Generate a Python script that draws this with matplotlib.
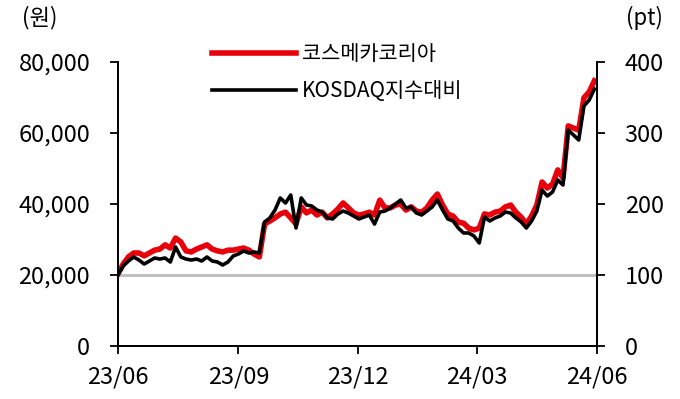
import pandas as pd
import matplotlib
matplotlib.use("Agg")
import matplotlib.pyplot as plt

plt.rcParams['font.family'] = ['Noto Sans CJK KR', 'DejaVu Sans']
plt.rcParams['font.weight'] = 'light'

# 4일 간격 관측값 (2023-06-01 ~ 2024-05-30)
dates = pd.date_range("2023-06-01", "2024-05-30", freq="4D")

# 코스메카코리아 주가 (원)
price = [20400, 23100, 25100, 26200, 26200, 25400, 26200, 27000, 27300, 28500,
         27600, 30400, 29300, 26800, 26500, 27300, 27900, 28500, 27300, 26800,
         26500, 27000, 27000, 27300, 27600, 27000, 25900, 25100, 34400, 35200,
         36100, 37200, 37700, 36100, 34400, 39200, 37500, 38300, 36900, 37700,
         36100, 37200, 38600, 40300, 38900, 37500, 36900, 37200, 37700, 36900,
         41100, 38900, 38900, 39700, 40000, 38300, 39200, 38000, 37700, 38900,
         41100, 42800, 39700, 37200, 36600, 34900, 34600, 33200, 32700, 33200,
         37200, 36900, 37700, 38000, 39200, 39700, 37700, 36300, 34400, 36600,
         39700, 46200, 44500, 45600, 49600, 47300, 62000, 61400, 60800, 69900,
         71600, 74700]

# KOSDAQ 지수 대비 상대지수 (pt)
rel = [100.0, 112.7, 119.7, 125.4, 121.1, 115.5, 119.7, 124.0, 122.5, 124.0,
       118.3, 139.4, 125.4, 122.5, 121.1, 122.5, 119.7, 125.4, 119.7, 118.3,
       114.1, 118.3, 126.8, 129.6, 133.8, 131.0, 132.4, 131.0, 174.7, 180.3,
       191.6, 208.5, 201.4, 212.7, 166.2, 208.5, 198.6, 197.2, 191.6, 188.7,
       180.3, 178.9, 185.9, 190.1, 187.3, 183.1, 178.9, 181.7, 184.5, 171.8,
       188.7, 190.1, 194.4, 200.0, 205.6, 194.4, 195.8, 187.3, 184.5, 190.1,
       195.8, 205.6, 191.6, 178.9, 176.1, 166.2, 159.2, 159.2, 154.9, 145.1,
       181.7, 176.1, 180.3, 183.1, 188.7, 187.3, 180.3, 174.7, 166.2, 176.1,
       190.1, 219.7, 211.3, 216.9, 233.8, 226.8, 304.2, 297.2, 290.2, 338.0,
       346.5, 362.0]

tick_dates = pd.to_datetime(["2023-06-01", "2023-09-01", "2023-12-01", "2024-03-01", "2024-06-01"])
tick_labels = ["23/06", "23/09", "23/12", "24/03", "24/06"]

fig = plt.figure(figsize=(6.8, 3.99), dpi=100)
ax = fig.add_axes([0.1735, 0.1328, 0.7045, 0.7118])
ax2 = ax.twinx()

ax.axhline(20000, color="#c0c0c0", lw=2.2, zorder=1)
l1, = ax.plot(dates, price, color="#e8000b", lw=4.0, zorder=2, label="코스메카코리아")
l2, = ax2.plot(dates, rel, color="black", lw=2.6, zorder=3, label="KOSDAQ지수대비")

ax.set_xlim(pd.Timestamp("2023-06-01"), pd.Timestamp("2024-06-01"))
ax.set_ylim(0, 80000)
ax2.set_ylim(0, 400)
ax.set_yticks([0, 20000, 40000, 60000, 80000])
ax.set_yticklabels(["0", "20,000", "40,000", "60,000", "80,000"])
ax2.set_yticks([0, 100, 200, 300, 400])
ax.set_xticks(tick_dates)
ax.set_xticklabels(tick_labels)

for a in (ax, ax2):
    a.spines["top"].set_visible(False)
    for s in ("left", "right", "bottom"):
        a.spines[s].set_linewidth(1.3)
    a.tick_params(axis="y", direction="out", length=6, width=1.3, labelsize=17, pad=14)
ax.tick_params(axis="x", direction="out", length=6, width=1.3, labelsize=17, pad=8)

fig.text(0.058, 0.955, "(원)", fontsize=16, ha="center", va="center")
fig.text(0.948, 0.955, "(pt)", fontsize=16, ha="center", va="center")

fig.legend(handles=[l1, l2], loc="upper left", bbox_to_anchor=(0.30, 0.912),
           frameon=False, fontsize=15, handlelength=4.0, labelspacing=0.7,
           handletextpad=0.3, borderaxespad=0)

fig.savefig("out.png", dpi=100)
